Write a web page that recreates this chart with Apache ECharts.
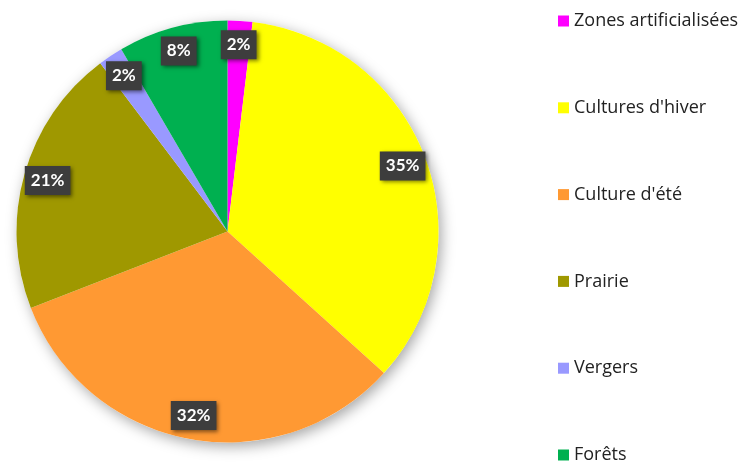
<!DOCTYPE html>
<html>
<head>
<meta charset="utf-8">
<script src="https://cdn.jsdelivr.net/npm/echarts@6/dist/echarts.min.js"></script>
<style>
  html, body { margin: 0; padding: 0; background: #fff; }
  #chart { width: 747px; height: 463px; }
</style>
</head>
<body>
<div id="chart"></div>
<script>
const categories = ['Zones artificialisées', "Cultures d'hiver", "Culture d'été", 'Prairie', 'Vergers', 'Forêts']
const values = [1.9, 34.8, 32.4, 20.6, 1.9, 8.4]
const colors = ['#FF00FF', '#FFFF00', '#FF9933', '#9F9800', '#9999FF', '#00B050']

const CENTER = [227.5, 231.5]
const R = 211

const chart = echarts.init(document.getElementById('chart'))

const sliceData = categories.map((name, i) => ({
  name,
  value: values[i],
  itemStyle: { color: colors[i] },
}))

chart.setOption({
  animation: false,
  legend: {
    orient: 'vertical',
    left: 558,
    top: 11,
    height: 455,
    padding: 0,
    itemWidth: 11,
    itemHeight: 11,
    itemGap: 66.8,
    icon: 'rect',
    selectedMode: false,
    data: categories,
    textStyle: { fontFamily: 'Open Sans', fontSize: 18, lineHeight: 20, color: '#222' },
  },
  series: [
    {
      // soft shadow behind the whole pie
      type: 'pie',
      silent: true,
      z: 1,
      center: CENTER,
      radius: R,
      label: { show: false },
      labelLine: { show: false },
      itemStyle: {
        color: '#fff',
        shadowBlur: 14,
        shadowColor: 'rgba(0,0,0,0.35)',
        shadowOffsetX: 3,
        shadowOffsetY: 4,
      },
      data: [{ name: 'bg', value: 1 }],
    },
    {
      type: 'pie',
      z: 2,
      center: CENTER,
      radius: R,
      startAngle: 90,
      label: { show: false },
      labelLine: { show: false },
      emphasis: { disabled: true },
      data: sliceData,
    },
    {
      // transparent ring carrying the labels near the outer edge
      type: 'pie',
      silent: true,
      z: 3,
      center: CENTER,
      radius: [157, R],
      startAngle: 90,
      percentPrecision: 0,
      itemStyle: { color: 'rgba(0,0,0,0)' },
      label: {
        show: true,
        position: 'inside',
        formatter: '{d}%',
        fontFamily: 'Lato',
        fontWeight: 'bold',
        fontSize: 17,
        lineHeight: 18,
        color: '#fff',
        backgroundColor: '#3d3d3d',
        padding: [6, 6, 5, 6],
        shadowColor: 'rgba(0,0,0,0.5)',
        shadowBlur: 4,
        shadowOffsetX: 2,
        shadowOffsetY: 2,
      },
      data: categories.map((name, i) => ({ name, value: values[i] })),
    },
  ],
})
</script>
</body>
</html>
